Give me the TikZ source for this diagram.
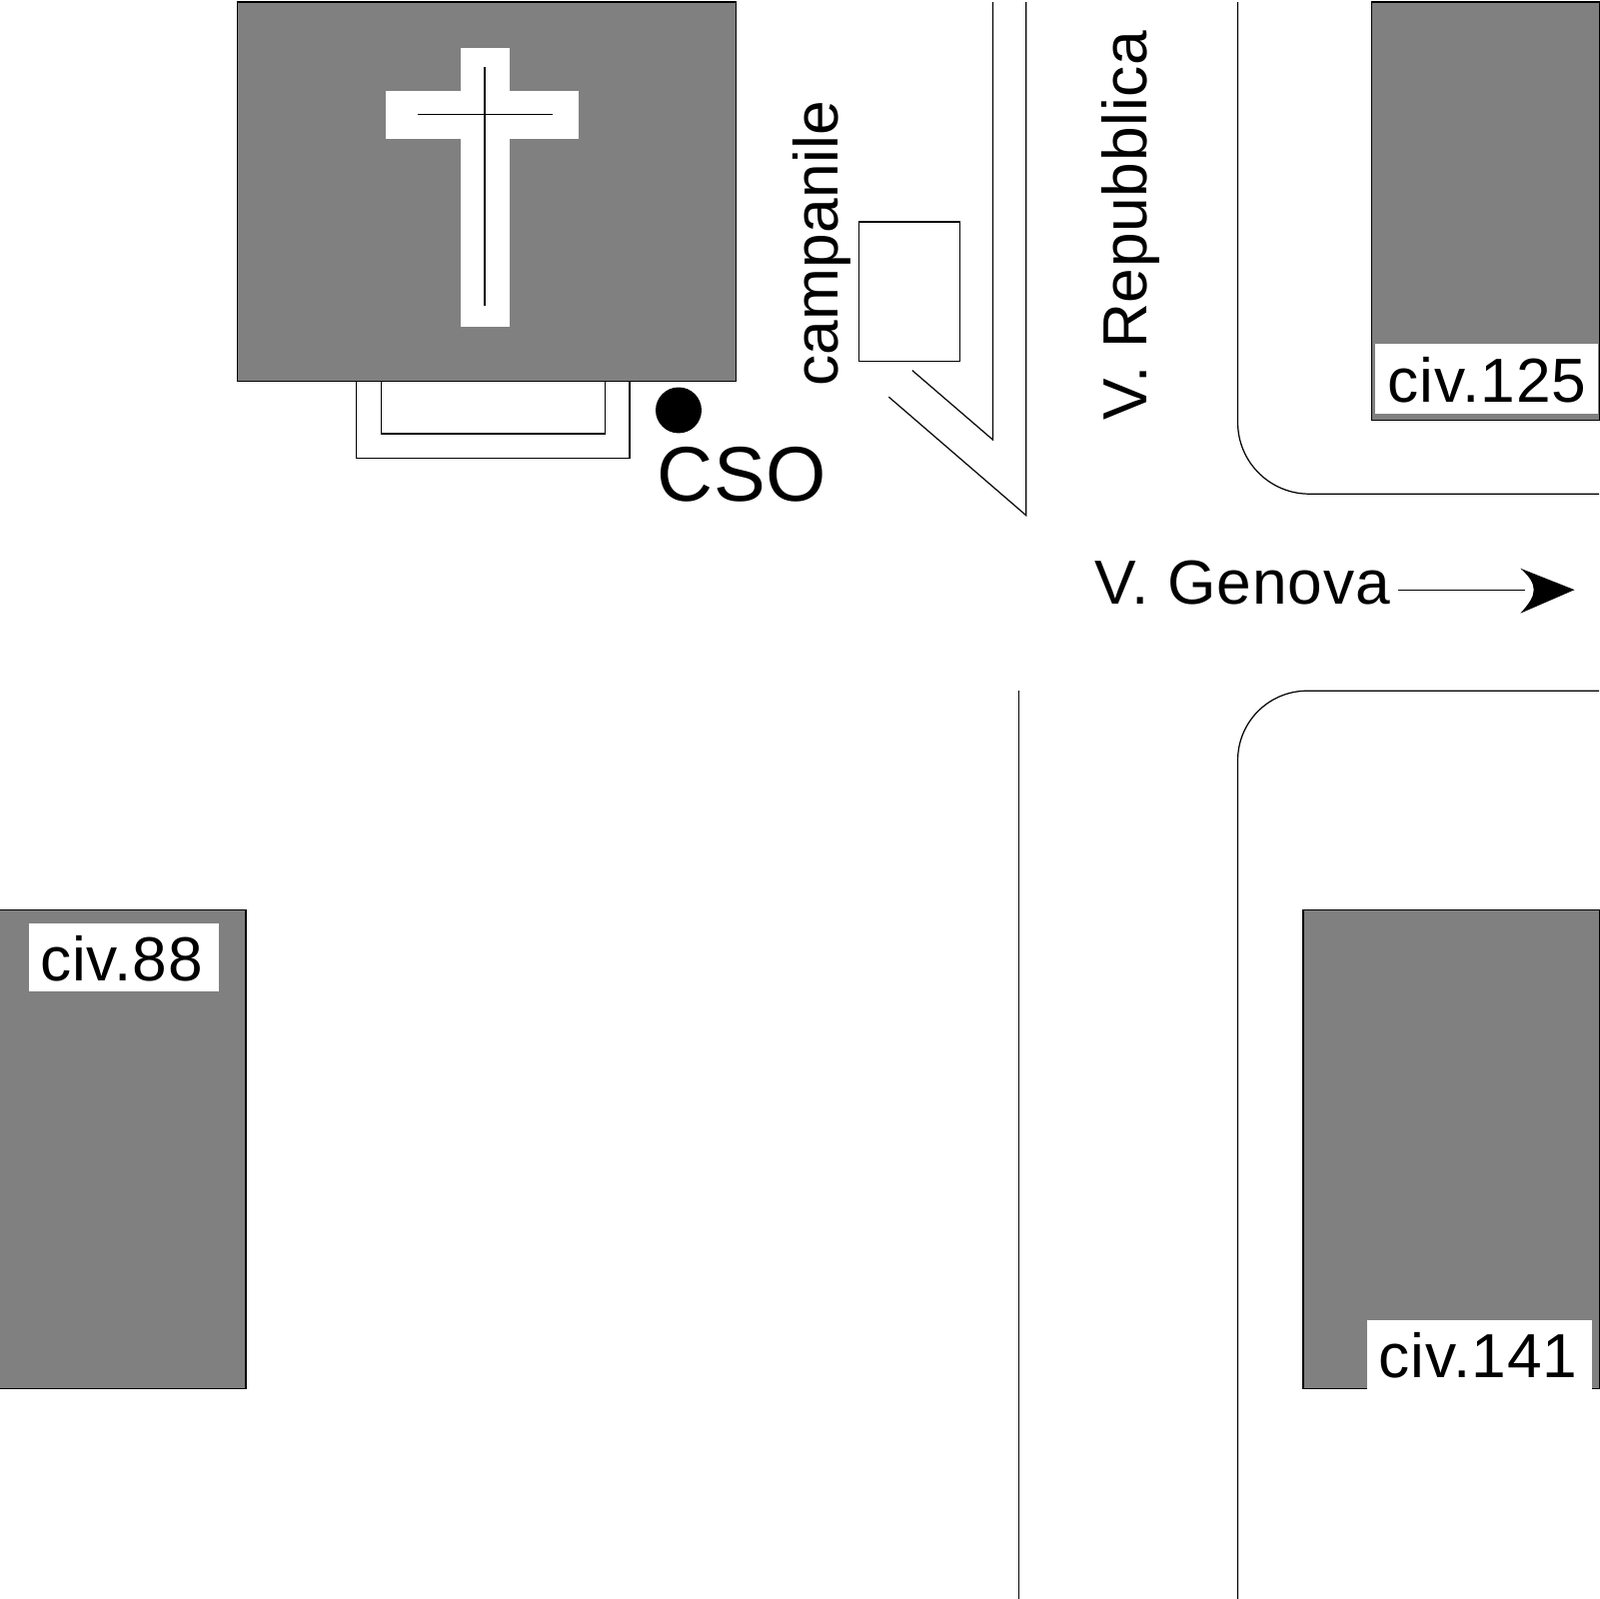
\documentclass[tikz,border=0pt]{standalone}
\usepackage{fontspec}
\setmainfont{Liberation Sans}
\definecolor{gray50}{RGB}{128,128,128}
\newfontfamily\lblwide[LetterSpace=1.6]{Liberation Sans}
\newfontfamily\lblmid[LetterSpace=1.1]{Liberation Sans}
\newfontfamily\lblnarrow[LetterSpace=0.4]{Liberation Sans}
\tikzset{
  bldg/.style={draw=black,line width=1.2pt,fill=gray50},
  lin/.style={draw=black,line width=1.2pt},
  patch/.style={fill=white,draw=none},
  lbl/.style={inner sep=0pt,anchor=base west,font=\fontsize{61}{61}\selectfont\lblwide},
}
\begin{document}
\begin{tikzpicture}[x=1pt,y=-1pt]
\useasboundingbox (0,0) rectangle (1567,1567);
% church
\path[bldg] (232.5,2) rectangle (721,374);
\path[patch] (451,47) rectangle (499,320);
\path[patch] (378,89) rectangle (567,136);
\path[lin] (475,66) -- (475,300);
\path[lin] (409,112) -- (542,112);
% steps
\path[lin] (349,374) -- (349,449) -- (617,449) -- (617,374);
\path[lin] (373.5,374) -- (373.5,425) -- (593,425) -- (593,374);
% dot
\fill[black] (665,402) circle (22.5);
\node[lbl,font=\fontsize{76}{76}\selectfont\lblnarrow] (cso) at (644,491) {CSO};
% bell tower
\path[lin] (841.5,217.5) rectangle (940.5,354);
\node[lbl,rotate=90,font=\fontsize{61}{61}\selectfont\lblnarrow] (camp) at (821,379) {campanile};
\path[lin] (973,2) -- (973,431) -- (894,363);
\path[lin] (1005.5,2) -- (1005.5,505) -- (871,389);
\node[lbl,rotate=90,font=\fontsize{61}{61}\selectfont\lblmid] (rep) at (1124,412) {V. Repubblica};
% kerbs
\path[lin] (1213,2) -- (1213,414) arc[start angle=180,end angle=90,radius=70] -- (1567,484);
\path[lin] (1567,677) -- (1281,677) arc[start angle=270,end angle=180,radius=68] -- (1213,1567);
\path[lin] (998.5,677) -- (998.5,1567);
% V. Genova arrow
\node[lbl] (gen) at (1073,592) {V. Genova};
\coordinate (tail) at (1370,578);
\coordinate (tip) at (1543,578);
\path[lin] (tail) -- (1495,578);
\fill[black] (tip) -- (1490,601) .. controls (1500,590) and (1503,584) .. (1503,578) .. controls (1503,572) and (1500,566) .. (1490,557) -- cycle;
% buildings
\path[bldg] (1344,2) rectangle (1568,412);
\path[patch] (1348,337) rectangle (1566,405);
\node[lbl] (c125) at (1360,394) {civ.125};
\path[bldg] (-2,892) rectangle (241,1361);
\path[patch] (28,905) rectangle (214,972);
\node[lbl] (c88) at (39,961) {civ.88};
\path[bldg] (1277,892) rectangle (1568,1361);
\path[patch] (1340,1294) rectangle (1560,1361);
\node[lbl] (c141) at (1351,1350) {civ.141};
\end{tikzpicture}
\end{document}
